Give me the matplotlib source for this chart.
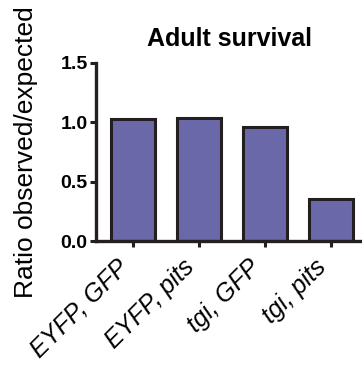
"""
Adult survival: ratio observed/expected per genotype
"""
import matplotlib
matplotlib.use('Agg')
import matplotlib.pyplot as plt

plt.rcParams['font.family'] = ['Liberation Sans', 'DejaVu Sans']

# 数据
genotypes = ['EYFP, GFP', 'EYFP, pits', 'tgi, GFP', 'tgi, pits']
ratios = [1.03, 1.04, 0.96, 0.35]
yticks = [0.0, 0.5, 1.0, 1.5]

fig = plt.figure(figsize=(3.62, 3.71), dpi=100)
ax = fig.add_axes([0.2652, 0.3504, 0.735, 0.4798])

x = range(len(genotypes))
ax.bar(x, ratios, width=0.67, color='#6B68AA', edgecolor='#231F20', linewidth=2.2, zorder=2)

ax.set_xlim(-0.56, 3.47)
ax.set_ylim(0, 1.5)
ax.set_yticks(yticks)
ax.set_yticklabels([f'{v:.1f}' for v in yticks], fontsize=14, fontweight='bold')
ax.set_xticks(list(x))
ax.set_xticklabels(genotypes, rotation=45, ha='right', fontsize=18, style='italic')

for side in ['top', 'right']:
    ax.spines[side].set_visible(False)
for side in ['left', 'bottom']:
    ax.spines[side].set_linewidth(2.4)
    ax.spines[side].set_color('#231F20')
ax.tick_params(axis='y', width=2.2, length=4, color='#231F20', pad=2)
ax.tick_params(axis='x', width=2.2, length=4, color='#231F20', pad=6)

ax.set_ylabel('Ratio observed/expected', fontsize=19, labelpad=16)
ax.set_title('Adult survival', fontsize=18, fontweight='bold', pad=12)

plt.savefig('out.png', dpi=100)
